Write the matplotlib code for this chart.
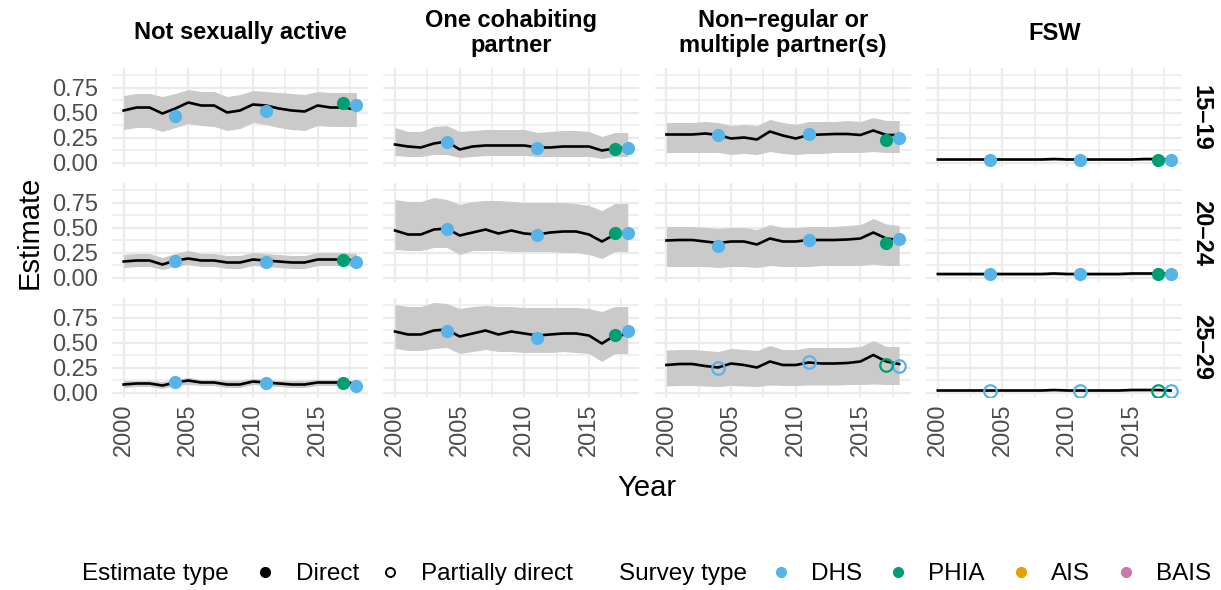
import matplotlib
matplotlib.use('Agg')
import matplotlib.pyplot as plt
from matplotlib.lines import Line2D
from matplotlib.ticker import MultipleLocator

plt.rcParams['font.family'] = ['Liberation Sans', 'DejaVu Sans']

# facet labels
categories = ['Not sexually active', 'One cohabiting\npartner',
              'Non\u2212regular or\nmultiple partner(s)', 'FSW']
age_groups = ['15\u201319', '20\u201324', '25\u201329']
years = list(range(2000, 2019))

dhs_years = [2004, 2011, 2018]
phia_years = [2017]

# estimate type per panel (rows = age groups, cols = categories)
est_type = [['Direct', 'Direct', 'Direct', 'Direct'],
            ['Direct', 'Direct', 'Direct', 'Direct'],
            ['Direct', 'Direct', 'Partially direct', 'Partially direct']]

# --- Not sexually active ---
nsa_mid = [[0.52, 0.55, 0.55, 0.49, 0.54, 0.60, 0.57, 0.57, 0.50, 0.52, 0.58, 0.57, 0.54, 0.52, 0.51, 0.57, 0.55, 0.55, 0.53],
           [0.16, 0.17, 0.17, 0.13, 0.17, 0.19, 0.17, 0.17, 0.15, 0.15, 0.18, 0.17, 0.16, 0.15, 0.15, 0.18, 0.18, 0.18, 0.17],
           [0.08, 0.09, 0.09, 0.07, 0.10, 0.12, 0.10, 0.10, 0.08, 0.08, 0.11, 0.10, 0.09, 0.08, 0.08, 0.10, 0.10, 0.10, 0.09]]
nsa_lo = [[0.33, 0.35, 0.35, 0.31, 0.35, 0.39, 0.37, 0.36, 0.32, 0.34, 0.40, 0.38, 0.35, 0.33, 0.32, 0.37, 0.36, 0.36, 0.36],
          [0.10, 0.11, 0.11, 0.08, 0.11, 0.13, 0.11, 0.11, 0.09, 0.09, 0.12, 0.11, 0.10, 0.09, 0.09, 0.12, 0.12, 0.12, 0.11],
          [0.05, 0.06, 0.06, 0.04, 0.07, 0.08, 0.07, 0.07, 0.05, 0.05, 0.08, 0.07, 0.06, 0.05, 0.05, 0.07, 0.07, 0.07, 0.06]]
nsa_hi = [[0.67, 0.69, 0.69, 0.66, 0.69, 0.73, 0.71, 0.71, 0.66, 0.68, 0.72, 0.71, 0.70, 0.69, 0.68, 0.71, 0.70, 0.70, 0.70],
          [0.23, 0.24, 0.24, 0.20, 0.24, 0.27, 0.24, 0.24, 0.22, 0.22, 0.25, 0.24, 0.23, 0.22, 0.22, 0.25, 0.25, 0.25, 0.24],
          [0.12, 0.12, 0.12, 0.11, 0.13, 0.15, 0.13, 0.13, 0.12, 0.12, 0.14, 0.13, 0.12, 0.12, 0.12, 0.13, 0.13, 0.13, 0.12]]
nsa_dhs = [[0.47, 0.52, 0.58], [0.17, 0.16, 0.16], [0.11, 0.10, 0.07]]
nsa_phia = [[0.60], [0.18], [0.10]]

# --- One cohabiting partner ---
coh_mid = [[0.18, 0.16, 0.15, 0.19, 0.21, 0.13, 0.16, 0.17, 0.17, 0.17, 0.17, 0.15, 0.15, 0.16, 0.16, 0.16, 0.12, 0.14, 0.15],
           [0.47, 0.43, 0.43, 0.48, 0.49, 0.42, 0.45, 0.48, 0.44, 0.47, 0.44, 0.43, 0.45, 0.46, 0.46, 0.43, 0.36, 0.43, 0.45],
           [0.61, 0.58, 0.58, 0.62, 0.63, 0.56, 0.59, 0.62, 0.58, 0.61, 0.59, 0.57, 0.58, 0.59, 0.59, 0.57, 0.49, 0.57, 0.58]]
coh_lo = [[0.07, 0.06, 0.06, 0.08, 0.08, 0.05, 0.06, 0.07, 0.07, 0.07, 0.07, 0.06, 0.06, 0.06, 0.06, 0.06, 0.04, 0.06, 0.06],
          [0.28, 0.27, 0.27, 0.30, 0.30, 0.23, 0.27, 0.27, 0.27, 0.26, 0.26, 0.26, 0.26, 0.25, 0.25, 0.23, 0.19, 0.26, 0.26],
          [0.44, 0.42, 0.42, 0.44, 0.45, 0.39, 0.41, 0.43, 0.41, 0.41, 0.40, 0.40, 0.40, 0.41, 0.40, 0.39, 0.31, 0.39, 0.39]]
coh_hi = [[0.35, 0.31, 0.31, 0.36, 0.37, 0.31, 0.32, 0.33, 0.33, 0.33, 0.33, 0.30, 0.31, 0.32, 0.32, 0.31, 0.26, 0.30, 0.30],
          [0.78, 0.76, 0.76, 0.80, 0.78, 0.73, 0.76, 0.77, 0.77, 0.76, 0.75, 0.75, 0.75, 0.75, 0.74, 0.72, 0.67, 0.74, 0.74],
          [0.88, 0.86, 0.86, 0.90, 0.89, 0.84, 0.86, 0.87, 0.86, 0.86, 0.85, 0.85, 0.85, 0.85, 0.85, 0.84, 0.81, 0.86, 0.86]]
coh_dhs = [[0.21, 0.15, 0.15], [0.49, 0.43, 0.45], [0.62, 0.55, 0.62]]
coh_phia = [[0.14], [0.45], [0.58]]

# --- Non-regular or multiple partner(s) ---
nrm_mid = [[0.28, 0.28, 0.28, 0.29, 0.275, 0.24, 0.25, 0.23, 0.31, 0.27, 0.24, 0.275, 0.28, 0.285, 0.285, 0.275, 0.32, 0.275, 0.275],
           [0.37, 0.375, 0.375, 0.36, 0.345, 0.36, 0.36, 0.33, 0.39, 0.36, 0.36, 0.375, 0.375, 0.375, 0.38, 0.39, 0.45, 0.39, 0.375],
           [0.275, 0.285, 0.285, 0.265, 0.25, 0.29, 0.275, 0.25, 0.31, 0.275, 0.275, 0.30, 0.29, 0.29, 0.295, 0.31, 0.375, 0.31, 0.285]]
nrm_lo = [[0.10, 0.10, 0.10, 0.10, 0.10, 0.08, 0.09, 0.08, 0.11, 0.09, 0.08, 0.09, 0.09, 0.10, 0.10, 0.10, 0.11, 0.10, 0.10],
          [0.11, 0.11, 0.11, 0.11, 0.10, 0.11, 0.11, 0.10, 0.12, 0.11, 0.11, 0.11, 0.12, 0.12, 0.12, 0.12, 0.135, 0.12, 0.12],
          [0.065, 0.07, 0.07, 0.065, 0.06, 0.07, 0.065, 0.06, 0.075, 0.07, 0.07, 0.075, 0.075, 0.075, 0.08, 0.08, 0.085, 0.08, 0.08]]
nrm_hi = [[0.40, 0.40, 0.40, 0.41, 0.40, 0.37, 0.38, 0.37, 0.43, 0.40, 0.38, 0.41, 0.41, 0.41, 0.42, 0.41, 0.45, 0.42, 0.42],
          [0.51, 0.51, 0.51, 0.50, 0.49, 0.50, 0.50, 0.48, 0.53, 0.50, 0.50, 0.51, 0.51, 0.51, 0.52, 0.53, 0.59, 0.535, 0.52],
          [0.425, 0.43, 0.43, 0.42, 0.41, 0.44, 0.43, 0.42, 0.47, 0.43, 0.43, 0.45, 0.45, 0.45, 0.45, 0.46, 0.52, 0.46, 0.46]]
nrm_dhs = [[0.275, 0.285, 0.25], [0.315, 0.375, 0.385], [0.25, 0.31, 0.265]]
nrm_phia = [[0.225], [0.35], [0.28]]

# --- FSW ---
fsw_mid = [[0.03, 0.03, 0.03, 0.03, 0.03, 0.03, 0.03, 0.03, 0.03, 0.035, 0.03, 0.03, 0.03, 0.03, 0.03, 0.03, 0.035, 0.035, 0.03],
           [0.035, 0.035, 0.035, 0.035, 0.035, 0.035, 0.035, 0.035, 0.035, 0.04, 0.035, 0.035, 0.035, 0.035, 0.035, 0.04, 0.04, 0.04, 0.04],
           [0.02, 0.02, 0.02, 0.02, 0.02, 0.02, 0.02, 0.02, 0.02, 0.025, 0.02, 0.02, 0.02, 0.02, 0.02, 0.025, 0.025, 0.025, 0.02]]
fsw_lo = [[0.02, 0.02, 0.02, 0.02, 0.02, 0.02, 0.02, 0.02, 0.02, 0.02, 0.02, 0.02, 0.02, 0.02, 0.02, 0.02, 0.02, 0.02, 0.02],
          [0.02, 0.02, 0.02, 0.02, 0.02, 0.02, 0.02, 0.02, 0.02, 0.025, 0.02, 0.02, 0.02, 0.02, 0.02, 0.025, 0.025, 0.025, 0.025],
          [0.01, 0.01, 0.01, 0.01, 0.01, 0.01, 0.01, 0.01, 0.01, 0.015, 0.01, 0.01, 0.01, 0.01, 0.01, 0.015, 0.015, 0.015, 0.01]]
fsw_hi = [[0.045, 0.045, 0.045, 0.045, 0.045, 0.045, 0.045, 0.045, 0.045, 0.05, 0.045, 0.045, 0.045, 0.045, 0.045, 0.045, 0.05, 0.05, 0.045],
          [0.05, 0.05, 0.05, 0.05, 0.05, 0.05, 0.05, 0.05, 0.05, 0.055, 0.05, 0.05, 0.05, 0.05, 0.05, 0.055, 0.055, 0.055, 0.055],
          [0.03, 0.03, 0.03, 0.03, 0.03, 0.03, 0.03, 0.03, 0.03, 0.035, 0.03, 0.03, 0.03, 0.03, 0.03, 0.035, 0.035, 0.035, 0.03]]
fsw_dhs = [[0.03, 0.03, 0.03], [0.035, 0.035, 0.035], [0.015, 0.015, 0.015]]
fsw_phia = [[0.03], [0.035], [0.015]]

mids = [nsa_mid, coh_mid, nrm_mid, fsw_mid]
los = [nsa_lo, coh_lo, nrm_lo, fsw_lo]
his = [nsa_hi, coh_hi, nrm_hi, fsw_hi]
dhs = [nsa_dhs, coh_dhs, nrm_dhs, fsw_dhs]
phia = [nsa_phia, coh_phia, nrm_phia, fsw_phia]

survey_colors = {'DHS': '#56B4E9', 'PHIA': '#009E73', 'AIS': '#E69F00', 'BAIS': '#CC79A7'}

W, H = 1221, 590
fig = plt.figure(figsize=(W / 100, H / 100), dpi=100)

tick_size = 17
title_size = 21
leg_size = 17.5
grid_col = '#EBEBEB'
left0, pw, gapx = 112, 256, 15.4
top0, ph, gapy = 68, 99, 16

for r in range(3):
    for c in range(4):
        x0 = left0 + c * (pw + gapx)
        y0 = top0 + r * (ph + gapy)
        ax = fig.add_axes([x0 / W, 1 - (y0 + ph) / H, pw / W, ph / H])
        ax.set_xlim(1999.1, 2018.9)
        ax.set_ylim(-0.045, 0.945)
        ax.xaxis.set_major_locator(MultipleLocator(5))
        ax.xaxis.set_minor_locator(MultipleLocator(2.5))
        ax.yaxis.set_major_locator(MultipleLocator(0.25))
        ax.yaxis.set_minor_locator(MultipleLocator(0.125))
        ax.grid(True, which='major', color=grid_col, lw=1.6, zorder=0)
        ax.grid(True, which='minor', color=grid_col, lw=1.1, zorder=0)
        ax.set_axisbelow(True)
        for s in ax.spines.values():
            s.set_visible(False)
        ax.tick_params(which='both', length=0, labelsize=tick_size, labelcolor='#4D4D4D')
        ax.tick_params(axis='y', pad=10)
        ax.tick_params(axis='x', pad=5, labelrotation=90)
        ax.set_yticks([0, 0.25, 0.5, 0.75])
        ax.set_yticklabels(['0.00', '0.25', '0.50', '0.75'])
        if c > 0:
            ax.tick_params(axis='y', labelleft=False)
        if r < 2:
            ax.tick_params(axis='x', labelbottom=False)

        ax.fill_between(years, los[c][r], his[c][r], color='#CACACA', lw=0, zorder=1)
        ax.plot(years, mids[c][r], color='black', lw=1.9, zorder=2)

        hollow = est_type[r][c] == 'Partially direct'
        for name, yrs, vals in [('DHS', dhs_years, dhs[c][r]), ('PHIA', phia_years, phia[c][r])]:
            col = survey_colors[name]
            if hollow:
                ax.plot(yrs, vals, 'o', ms=9, mfc='none', mec=col, mew=1.6, zorder=3)
            else:
                ax.plot(yrs, vals, 'o', ms=9.5, mfc=col, mec=col, mew=0, zorder=3)

        if r == 0:
            ax.text(0.5, 1.0 + 35 / ph, categories[c], transform=ax.transAxes,
                    ha='center', va='center', fontsize=tick_size, fontweight='bold',
                    linespacing=1.1)
        if c == 3:
            ax.text(1.0 + 19 / pw, 0.5, age_groups[r], transform=ax.transAxes,
                    ha='center', va='center', rotation=270, fontsize=tick_size,
                    fontweight='bold')

fig.text(30 / W, 1 - 232 / H, 'Estimate', rotation=90, ha='center', va='center',
         fontsize=title_size)
fig.text(647 / W, 1 - 488 / H, 'Year', ha='center', va='center', fontsize=title_size)

# legends: title to the left of the keys, as in ggplot bottom legends
leg_y = 1 - 574 / H
est_handles = [Line2D([], [], linestyle='none', marker='o', ms=7, mfc='black', mec='black'),
               Line2D([], [], linestyle='none', marker='o', ms=6.5, mfc='none', mec='black', mew=1.4)]
est_labels = ['Direct', 'Partially direct']
srv_handles = [Line2D([], [], linestyle='none', marker='o', ms=7, mfc=col, mec=col)
               for col in survey_colors.values()]
srv_labels = list(survey_colors.keys())

fig.text(82 / W, leg_y, 'Estimate type', ha='left', va='center', fontsize=leg_size)
fig.legend(est_handles, est_labels, loc='center left', bbox_to_anchor=(253 / W, leg_y),
           ncol=2, frameon=False, fontsize=leg_size, handlelength=1.0,
           handletextpad=0.77, columnspacing=0.75, borderpad=0, borderaxespad=0)
fig.text(619 / W, leg_y, 'Survey type', ha='left', va='center', fontsize=leg_size)
fig.legend(srv_handles, srv_labels, loc='center left', bbox_to_anchor=(769 / W, leg_y),
           ncol=4, frameon=False, fontsize=leg_size, handlelength=1.0,
           handletextpad=0.72, columnspacing=1.0, borderpad=0, borderaxespad=0)

fig.savefig('out.png', dpi=100)
